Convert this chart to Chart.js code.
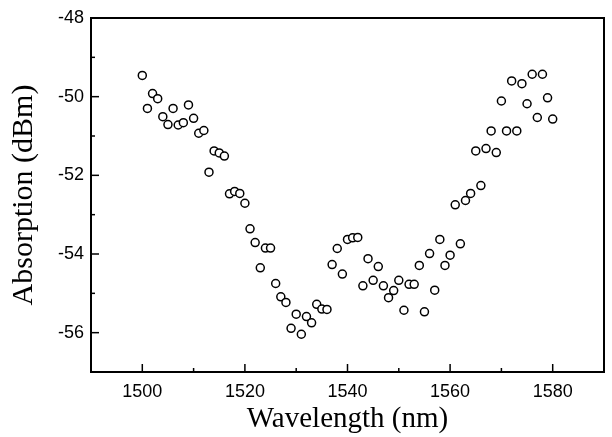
<!DOCTYPE html>
<html>
<head>
<meta charset="utf-8">
<script src="https://cdn.jsdelivr.net/npm/chart.js@4/dist/chart.umd.min.js"></script>
<style>
  body { margin: 0; background: #fff; }
  canvas { display: block; }
</style>
</head>
<body>
<canvas id="myChartAbs" width="612" height="437"></canvas>
<script>
// wavelength (nm), one point per nm
const wavelengths = [];
for (let w = 1500; w <= 1580; w++) wavelengths.push(w);

// absorption (dBm)
const absorption = [
  -49.46, -50.30, -49.92, -50.05, -50.51, -50.71, -50.30, -50.72, -50.66, -50.21,
  -50.55, -50.93, -50.86, -51.92, -51.38, -51.43, -51.51, -52.47, -52.41, -52.46,
  -52.71, -53.36, -53.71, -54.35, -53.85, -53.85, -54.75, -55.09, -55.23, -55.89,
  -55.53, -56.04, -55.59, -55.75, -55.28, -55.40, -55.41, -54.27, -53.86, -54.51,
  -53.63, -53.59, -53.58, -54.81, -54.12, -54.67, -54.32, -54.81, -55.11, -54.93,
  -54.67, -55.43, -54.77, -54.77, -54.29, -55.47, -53.99, -54.92, -53.63, -54.29,
  -54.03, -52.75, -53.74, -52.64, -52.46, -51.38, -52.26, -51.32, -50.87, -51.42,
  -50.11, -50.87, -49.60, -50.87, -49.67, -50.18, -49.43, -50.53, -49.43, -50.03,
  -50.57
];

const xTicks = [1500, 1520, 1540, 1560, 1580];
const yTicks = [-48, -50, -52, -54, -56];

const points = wavelengths.map((w, i) => ({ x: w, y: absorption[i] }));

// frame + inward ticks
const frameTicks = {
  id: 'frameTicks',
  afterDraw(chart) {
    const ctx = chart.ctx;
    const a = chart.chartArea;
    const xs = chart.scales.x, ys = chart.scales.y;
    ctx.save();
    ctx.strokeStyle = '#000';
    ctx.lineWidth = 1.5;
    for (let v = 1490; v <= 1590; v += 10) {
      const px = xs.getPixelForValue(v);
      const len = (v % 20 === 0) ? 8 : 4;
      ctx.beginPath();
      ctx.moveTo(px, a.bottom);
      ctx.lineTo(px, a.bottom - len);
      ctx.stroke();
    }
    for (let v = -57; v <= -48; v++) {
      const py = ys.getPixelForValue(v);
      const len = (v % 2 === 0) ? 8 : 4;
      ctx.beginPath();
      ctx.moveTo(a.left, py);
      ctx.lineTo(a.left + len, py);
      ctx.stroke();
    }
    ctx.lineWidth = 2;
    ctx.strokeRect(a.left, a.top, a.right - a.left, a.bottom - a.top);
    ctx.restore();
  }
};

const config = {
  type: 'scatter',
  data: {
    datasets: [{
      label: 'Absorption',
      data: points,
      pointStyle: 'circle',
      pointRadius: 4,
      pointBorderWidth: 1.5,
      pointBorderColor: '#000',
      pointBackgroundColor: '#fff'
    }]
  },
  options: {
    responsive: false,
    animation: false,
    layout: { padding: { top: 18, right: 8, left: 0, bottom: 0 } },
    plugins: { legend: { display: false }, tooltip: { enabled: false } },
    scales: {
      x: {
        type: 'linear',
        min: 1490,
        max: 1590,
        afterFit(scale) { scale.height = 65; },
        afterBuildTicks(scale) {
          scale.ticks = xTicks.map(v => ({ value: v }));
        },
        grid: { display: false, drawTicks: false },
        border: { display: false },
        ticks: {
          padding: 9,
          color: '#000',
          font: { family: 'Liberation Sans', size: 18 },
          callback: v => String(v)
        },
        title: {
          display: true,
          text: 'Wavelength (nm)',
          color: '#000',
          padding: { top: 0, bottom: 0 },
          font: { family: 'Liberation Serif', size: 29 }
        }
      },
      y: {
        type: 'linear',
        min: -57,
        max: -48,
        afterFit(scale) { scale.width = 91; },
        afterBuildTicks(scale) {
          scale.ticks = yTicks.map(v => ({ value: v }));
        },
        grid: { display: false, drawTicks: false },
        border: { display: false },
        ticks: {
          padding: 7,
          color: '#000',
          font: { family: 'Liberation Sans', size: 18 },
          callback: v => String(v)
        },
        title: {
          display: true,
          text: 'Absorption (dBm)',
          color: '#000',
          padding: { top: 6, bottom: 0 },
          font: { family: 'Liberation Serif', size: 30 }
        }
      }
    }
  },
  plugins: [frameTicks]
};

const myChart = new Chart(document.getElementById('myChartAbs'), config);
</script>
</body>
</html>
